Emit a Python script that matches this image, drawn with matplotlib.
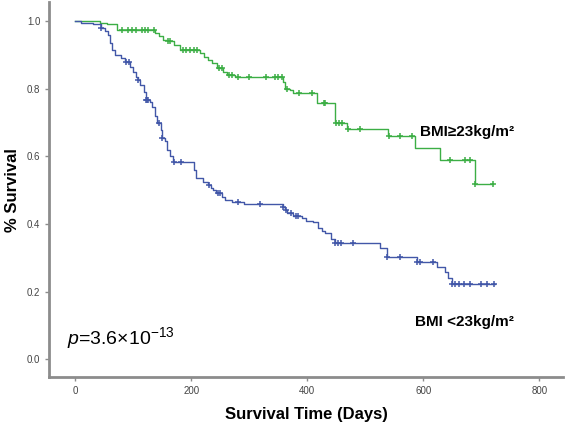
import numpy as np
import matplotlib.pyplot as plt

plt.rcParams['font.family'] = ['Liberation Sans', 'DejaVu Sans']
plt.rcParams['mathtext.fontset'] = 'custom'
plt.rcParams['mathtext.rm'] = 'Liberation Sans'
plt.rcParams['mathtext.it'] = 'Liberation Sans:italic'

# BMI >= 23 group: event times (days) and survival after each drop
hi_t = [0, 43, 55, 72, 137, 145, 152, 160, 170, 180, 215, 222, 228, 236, 244, 255, 262, 275,
        358, 361, 370, 375, 417, 448, 468, 539, 585, 629, 689]
hi_s = [1.0, 0.995, 0.99, 0.975, 0.965, 0.955, 0.945, 0.94, 0.93, 0.915, 0.905, 0.895, 0.885,
        0.875, 0.86, 0.85, 0.84, 0.835, 0.82, 0.80, 0.795, 0.787, 0.757, 0.698, 0.682, 0.66,
        0.625, 0.59, 0.518]
hi_end = 720
hi_cens = [80, 90, 98, 105, 115, 120, 125, 135, 160, 163, 185, 190, 198, 205, 210, 248, 252,
           265, 270, 280, 300, 328, 345, 350, 356, 365, 385, 408, 428, 430, 450, 455, 460, 470,
           490, 541, 560, 580, 646, 672, 680, 689, 720]

# BMI < 23 group
lo_t = [0, 10, 30, 45, 52, 56, 60, 63, 68, 78, 86, 95, 99, 104, 108, 112, 118, 121, 128, 133,
        137, 141, 148, 150, 154, 158, 163, 168, 205, 208, 220, 229, 234, 237, 242, 252, 258,
        270, 290, 358, 362, 365, 376, 391, 398, 410, 418, 425, 430, 440, 448, 525, 537, 589,
        624, 637, 642, 649]
lo_s = [1.0, 0.995, 0.99, 0.98, 0.97, 0.96, 0.935, 0.915, 0.90, 0.89, 0.88, 0.865, 0.85, 0.835,
        0.825, 0.81, 0.79, 0.766, 0.76, 0.745, 0.72, 0.698, 0.677, 0.653, 0.645, 0.618, 0.60,
        0.583, 0.56, 0.535, 0.525, 0.515, 0.505, 0.50, 0.49, 0.48, 0.47, 0.465, 0.458, 0.449,
        0.44, 0.432, 0.423, 0.417, 0.41, 0.405, 0.387, 0.378, 0.372, 0.355, 0.343, 0.328,
        0.302, 0.287, 0.272, 0.257, 0.24, 0.222]
lo_end = 724
lo_cens = [45, 88, 92, 108, 122, 124, 126, 145, 150, 170, 183, 231, 246, 249, 280, 319, 358,
           363, 372, 380, 383, 448, 452, 458, 478, 537, 560, 589, 595, 617, 650, 655, 662, 670,
           680, 700, 710, 722]

x_ticks = [0, 200, 400, 600, 800]
y_ticks = [0.0, 0.2, 0.4, 0.6, 0.8, 1.0]

green = '#3cae45'
blue = '#4257a8'


def km(ax, t, s, end, cens, color):
    tt = list(t) + [end]
    ss = list(s) + [s[-1]]
    ax.step(tt, ss, where='post', color=color, lw=1.0, zorder=2)
    idx = np.searchsorted(t, cens, side='right') - 1
    lev = np.array(s)[idx]
    ax.plot(cens, lev, ls='none', marker='+', ms=5, mew=1.1, color=color, zorder=2)


fig = plt.figure(figsize=(5.67, 4.28), dpi=100)
ax = fig.add_axes([0.0873, 0.119, 0.906, 0.876])

km(ax, hi_t, hi_s, hi_end, hi_cens, green)
km(ax, lo_t, lo_s, lo_end, lo_cens, blue)

ax.set_xlim(-44.5, 841)
ax.set_ylim(-0.053, 1.056)
ax.set_xticks(x_ticks)
ax.set_xticklabels([str(v) for v in x_ticks])
ax.set_yticks(y_ticks)
ax.set_yticklabels(['%.1f' % v for v in y_ticks])

for side in ['top', 'right']:
    ax.spines[side].set_visible(False)
for side in ['left', 'bottom']:
    ax.spines[side].set_color('#8c8c8c')
    ax.spines[side].set_linewidth(2.0)
ax.tick_params(colors='#8c8c8c', labelcolor='#444444', labelsize=7, length=3, width=1)

ax.set_xlabel('Survival Time (Days)', fontsize=12, fontweight='bold', labelpad=8)
ax.set_ylabel('% Survival', fontsize=12, fontweight='bold', labelpad=5)

ax.text(594, 0.672, 'BMI≥23kg/m²', fontsize=11, fontweight='bold', va='center',
        bbox=dict(facecolor='white', edgecolor='none', pad=1), zorder=3)
ax.text(670, 0.11, 'BMI <23kg/m²', fontsize=11, fontweight='bold', va='center', ha='center')
ax.text(-14, 0.062, '$\\it{p}$=3.6×10$^{-13}$', fontsize=14, va='center')

fig.savefig('out.png', dpi=100)
